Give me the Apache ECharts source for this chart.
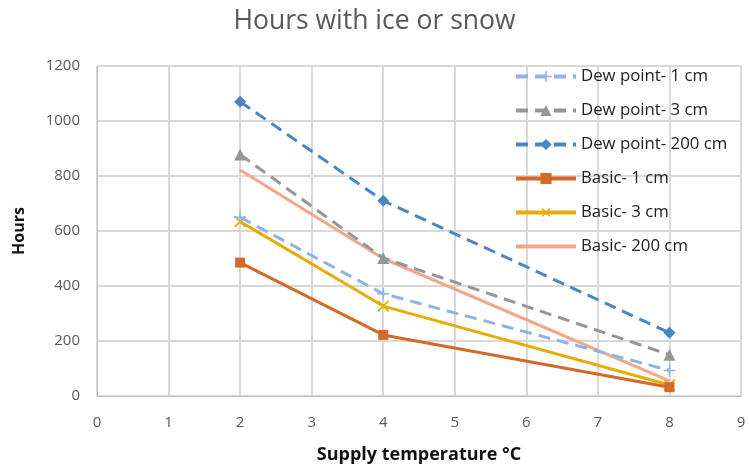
<!DOCTYPE html>
<html><head><meta charset="utf-8">
<script src="https://cdn.jsdelivr.net/npm/echarts@6/dist/echarts.min.js"></script>
<style>html,body{margin:0;padding:0;background:#fff}#c{width:749px;height:469px}</style>
</head><body><div id="c"></div>
<script>
var xValues = [2, 4, 8];
var seriesNames = ['Dew point- 1 cm', 'Dew point- 3 cm', 'Dew point- 200 cm', 'Basic- 1 cm', 'Basic- 3 cm', 'Basic- 200 cm'];
var dew1 = [650, 372, 93];
var dew3 = [878, 502, 150];
var dew200 = [1070, 710, 230];
var basic1 = [485, 222, 32];
var basic3 = [634, 327, 40];
var basic200 = [822, 500, 55];
var xTicks = [0, 1, 2, 3, 4, 5, 6, 7, 8, 9];
var yTicks = [0, 200, 400, 600, 800, 1000, 1200];

var plusPath = 'path://M-1.2,-10 L1.2,-10 L1.2,-1.2 L10,-1.2 L10,1.2 L1.2,1.2 L1.2,10 L-1.2,10 L-1.2,1.2 L-10,1.2 L-10,-1.2 L-1.2,-1.2 Z';
var linePath = 'path://M0,0 L60,0 L60,4 L0,4 Z';
var dash = [12, 7];
function pts(vals){ return xValues.map(function(x,i){ return [x, vals[i]]; }); }
var defs = [
  {data: dew1, color: '#8FB4E3', dashed: true, symbol: plusPath, size: 12, rot: 0},
  {data: dew3, color: '#969696', dashed: true, symbol: 'triangle', size: 12, rot: 0},
  {data: dew200, color: '#4A86C5', dashed: true, symbol: 'diamond', size: 12, rot: 0},
  {data: basic1, color: '#D4692A', dashed: false, symbol: 'rect', size: 10, rot: 0},
  {data: basic3, color: '#E5AE06', dashed: false, symbol: plusPath, size: 15, rot: 45},
  {data: basic200, color: '#F4A68B', dashed: false, symbol: 'none', size: 0, rot: 0}
];
var series = defs.map(function(d, i){
  return {
    name: seriesNames[i], type: 'line', data: pts(d.data),
    symbol: d.symbol, symbolSize: d.size, symbolRotate: d.rot, showSymbol: d.size > 0,
    lineStyle: {color: d.color, width: 3, type: d.dashed ? dash : 'solid'},
    itemStyle: {color: d.color, borderWidth: 0},
    emphasis: {disabled: true}, animation: false, z: 10 - i
  };
});
var legendData = seriesNames.map(function(n, i){
  return i === 5 ? {name: n, icon: linePath} : {name: n};
});
var chart = echarts.init(document.getElementById('c'), null, {renderer: 'canvas'});
chart.setOption({
  animation: false,
  title: {text: 'Hours with ice or snow', left: 'center', top: 3,
    textStyle: {fontFamily: 'Open Sans', fontWeight: 'normal', fontSize: 26.5, color: '#595959'}},
  grid: {left: 97, right: 8, top: 66, bottom: 73, outerBoundsMode: 'none', containLabel: false},
  legend: {orient: 'vertical', left: 509, top: 63, itemGap: 17, itemWidth: 60, itemHeight: 14,
    lineStyle: {width: 4},
    textStyle: {fontFamily: 'Open Sans', fontSize: 16.8, color: '#222'},
    data: legendData},
  xAxis: {type: 'value', min: 0, max: 9, interval: 1,
    name: 'Supply temperature °C', nameLocation: 'middle', nameGap: 50,
    nameTextStyle: {fontFamily: 'Open Sans', fontWeight: 'bold', fontSize: 18, color: '#111'},
    axisLine: {show: true, lineStyle: {color: '#BFBFBF', width: 1}},
    axisTick: {show: false},
    splitLine: {show: true, lineStyle: {color: '#D9D9D9', width: 2}},
    axisLabel: {fontFamily: 'Open Sans', fontSize: 15, color: '#595959', margin: 19,
      formatter: function(v){ return xTicks.indexOf(v) >= 0 ? String(v) : ''; }}},
  yAxis: {type: 'value', min: 0, max: 1200, interval: 200,
    name: 'Hours', nameLocation: 'middle', nameGap: 70, nameRotate: 90,
    nameTextStyle: {fontFamily: 'Open Sans', fontWeight: 'bold', fontSize: 16, color: '#111'},
    axisLine: {show: true, lineStyle: {color: '#BFBFBF', width: 1}},
    axisTick: {show: false},
    splitLine: {show: true, lineStyle: {color: '#D9D9D9', width: 2}},
    axisLabel: {fontFamily: 'Open Sans', fontSize: 15, color: '#595959', margin: 17,
      formatter: function(v){ return yTicks.indexOf(v) >= 0 ? String(v) : ''; }}},
  series: series
});
</script></body></html>
